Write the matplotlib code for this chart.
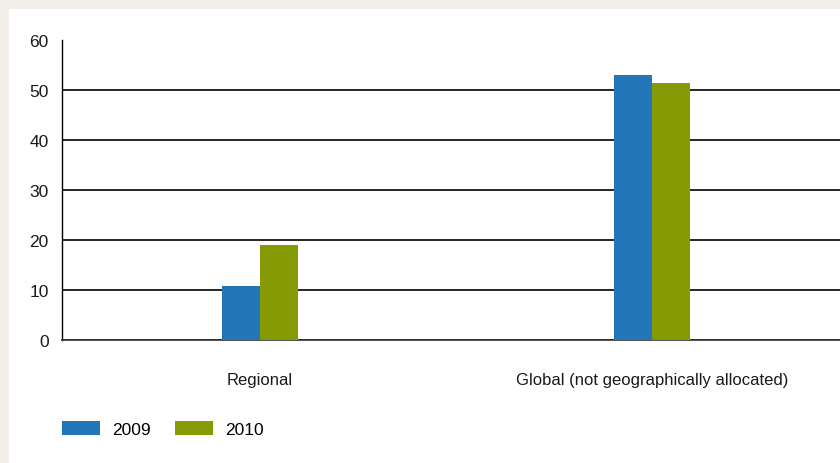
import matplotlib.pyplot as plt
import numpy as np
from matplotlib.patches import Rectangle, Patch

categories = ["Regional", "Global (not geographically allocated)"]
years = ["2009", "2010"]
values_2009 = [10.8, 53.0]
values_2010 = [19.0, 51.4]
colors = ["#2277bb", "#869a06"]

plt.rcParams['font.family'] = ['Liberation Sans', 'DejaVu Sans']

fig = plt.figure(figsize=(8.4, 4.64), dpi=100)
fig.patch.set_facecolor("white")

# beige frame strips at top and left
beige = "#f2eee8"
fig.add_artist(Rectangle((0, 1 - 10 / 464), 1, 10 / 464, transform=fig.transFigure,
                         facecolor=beige, edgecolor="none", zorder=0))
fig.add_artist(Rectangle((0, 0), 9 / 840, 1, transform=fig.transFigure,
                         facecolor=beige, edgecolor="none", zorder=0))

ax = fig.add_axes([62 / 840, 1 - 341 / 464, 1 - 62 / 840, 300 / 464])
ax.set_facecolor("white")

x = np.arange(len(categories))
w = 0.097
ax.bar(x - w / 2, values_2009, width=w, color=colors[0], zorder=3)
ax.bar(x + w / 2, values_2010, width=w, color=colors[1], zorder=3)

ax.set_xlim(-0.505, 1.48)
ax.set_ylim(0, 60)
ax.set_yticks(range(0, 61, 10))
ax.yaxis.grid(True, color="black", linewidth=1.2)
ax.get_ygridlines()[-1].set_visible(False)
ax.set_axisbelow(True)
ax.tick_params(axis="y", length=0, labelsize=12.5, pad=9.5, colors="#1a1a1a")
ax.tick_params(axis="x", length=0, labelsize=12, pad=23, colors="#1a1a1a")
ax.set_xticks(x)
ax.set_xticklabels(categories)

for s in ["top", "right"]:
    ax.spines[s].set_visible(False)
ax.spines["left"].set_linewidth(1.0)
ax.spines["bottom"].set_linewidth(1.2)
ax.spines["bottom"].set_color("#333333")

handles = [Patch(facecolor=colors[0], label=years[0]), Patch(facecolor=colors[1], label=years[1])]
fig.legend(handles=handles, loc="center left", bbox_to_anchor=(62 / 840, 1 - 430 / 464),
           ncol=2, frameon=False, fontsize=12.5, handlelength=2.2, handleheight=0.85,
           columnspacing=1.4, handletextpad=0.7, borderaxespad=0, borderpad=0)

fig.savefig("out.png", dpi=100, facecolor=fig.get_facecolor())
